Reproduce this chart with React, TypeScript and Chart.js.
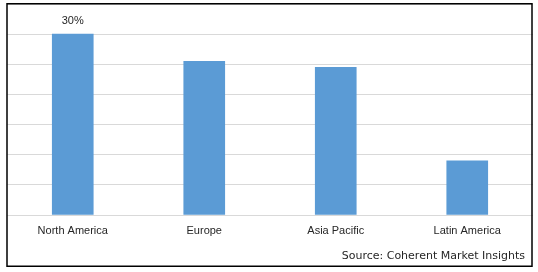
import React, { useEffect, useRef } from "react";
import { Chart, registerables } from "chart.js";

Chart.register(...registerables);

const categories = ["North America", "Europe", "Asia Pacific", "Latin America"];
const shares = [30, 25.5, 24.5, 9];
const valueLabels = ["30%", "", "", ""];
const yTicks = { min: 0, max: 35, step: 5 };
const sourceText = "Source: Coherent Market Insights";

const W = 538;
const H = 272;

const framePlugin = {
  id: "frame",
  afterDraw(chart: any) {
    const ctx = chart.ctx;
    ctx.save();
    // value labels
    const meta = chart.getDatasetMeta(0);
    ctx.font = "11px 'Liberation Sans', Arial, sans-serif";
    ctx.fillStyle = "#262626";
    ctx.textAlign = "center";
    ctx.textBaseline = "bottom";
    meta.data.forEach((bar: any, i: number) => {
      const t = valueLabels[i];
      if (t) ctx.fillText(t, bar.x, bar.y - 8);
    });
    // source
    ctx.font = "11px 'DejaVu Sans', Verdana, sans-serif";
    ctx.fillStyle = "#262626";
    ctx.textAlign = "right";
    ctx.textBaseline = "middle";
    ctx.fillText(sourceText, 525, 256);
    // border
    ctx.strokeStyle = "#000000";
    ctx.lineWidth = 1.5;
    ctx.strokeRect(7, 3.75, 525, 262.5);
    ctx.restore();
  },
};

export default function App() {
  const ref = useRef<HTMLCanvasElement>(null);
  useEffect(() => {
    if (!ref.current) return;
    const chart = new Chart(ref.current, {
      type: "bar",
      data: {
        labels: categories,
        datasets: [
          {
            data: shares,
            backgroundColor: "#5b9bd5",
            borderWidth: 0,
            barThickness: 41,
          },
        ],
      },
      options: {
        responsive: false,
        animation: false,
        layout: { padding: { left: 7, right: 5, top: 4, bottom: 27 } },
        plugins: {
          legend: { display: false },
          tooltip: { enabled: false },
          title: { display: false },
        },
        scales: {
          x: {
            grid: { display: false },
            border: { display: false },
            ticks: {
              color: "#262626",
              font: { family: "'Liberation Sans', Arial, sans-serif", size: 11 },
              padding: 1,
              maxRotation: 0,
            },
            afterFit(scale: any) {
              scale.height = 30;
            },
          },
          y: {
            min: yTicks.min,
            max: yTicks.max,
            ticks: { display: false, stepSize: yTicks.step },
            grid: { color: "#d9d9d9", lineWidth: 1, drawTicks: false },
            border: { display: false },
            afterFit(scale: any) {
              scale.width = 0;
            },
          },
        },
      },
      plugins: [framePlugin],
    });
    return () => chart.destroy();
  }, []);
  return (
    <div style={{ position: "fixed", left: 0, top: 0, width: W, height: H, background: "#fff" }}>
      <canvas ref={ref} width={W} height={H} style={{ display: "block" }} />
    </div>
  );
}
